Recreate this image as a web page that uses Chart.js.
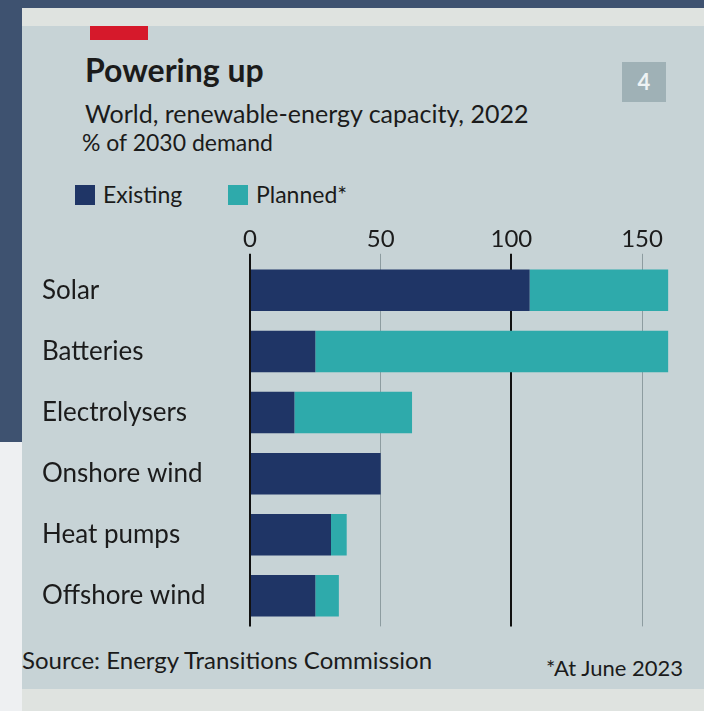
<!DOCTYPE html>
<html>
<head>
<meta charset="utf-8">
<script src="https://cdn.jsdelivr.net/npm/chart.js@4.4.0/dist/chart.umd.min.js"></script>
<style>
  html, body { margin: 0; padding: 0; }
  body { width: 704px; height: 711px; position: relative; overflow: hidden; background: #3e5270; font-family: Lato, "Open Sans", sans-serif; color: #1b1b1b; }
  #paper { position: absolute; left: 22px; top: 8px; right: 0; bottom: 0; background: #dfe3e0; }
  #panel { position: absolute; left: 22px; top: 26px; right: 0; bottom: 22px; background: #c7d3d6; }
  #leftlow { position: absolute; left: 0; top: 442px; width: 22px; bottom: 0; background: #eef0f2; }
  .t { position: absolute; white-space: nowrap; }
  #red { position: absolute; left: 90px; top: 26px; width: 58px; height: 14px; background: #d6192b; }
  #title { left: 85px; top: 50px; font-size: 32px; font-weight: 700; }
  #sub { left: 85px; top: 98px; font-size: 25px; }
  #unit { left: 82px; top: 128px; font-size: 23px; }
  #num { position: absolute; left: 622px; top: 62px; width: 44px; height: 40px; background: #9fb1b6; color: #eef3f4; font: 700 22px Lato, sans-serif; text-align: center; line-height: 40px; }
  .leg { position: absolute; top: 180px; font-size: 23px; }
  .sw { display: inline-block; width: 20px; height: 20px; vertical-align: -2px; margin-right: 8px; }
  #src { left: 22px; top: 645px; font-size: 24px; }
  #note { left: 546px; top: 654px; font-size: 22px; }
  #wrap { position: absolute; left: 0; top: 225px; width: 704px; height: 420px; }
</style>
</head>
<body>
<div id="paper"></div>
<div id="panel"></div>
<div id="leftlow"></div>
<div id="red"></div>
<div class="t" id="title">Powering up</div>
<div class="t" id="sub">World, renewable-energy capacity, 2022</div>
<div class="t" id="unit">% of 2030 demand</div>
<div id="num">4</div>
<div class="leg" style="left:75px"><span class="sw" style="background:#1f3566"></span>Existing</div>
<div class="leg" style="left:228px"><span class="sw" style="background:#2eaaab"></span>Planned*</div>
<div id="wrap"><canvas id="myChart"></canvas></div>
<div class="t" id="src">Source: Energy Transitions Commission</div>
<div class="t" id="note">*At June 2023</div>
<script>
const categories = ['Solar', 'Batteries', 'Electrolysers', 'Onshore wind', 'Heat pumps', 'Offshore wind'];
const existing = [107, 25, 17, 50, 31, 25];
const planned = [53, 135, 45, 0, 6, 9];
const tickValues = [0, 50, 100, 150];

const data = {
  labels: categories,
  datasets: [{
    label: 'Existing',
    backgroundColor: '#1f3566',
    data: existing,
  }, {
    label: 'Planned*',
    backgroundColor: '#2eaaab',
    data: planned,
  }]
};

const config = {
  type: 'bar',
  data: data,
  options: {
    indexAxis: 'y',
    responsive: true,
    maintainAspectRatio: false,
    animation: false,
    layout: { padding: { left: 42, right: 28, top: 0, bottom: 15 } },
    plugins: { legend: { display: false }, tooltip: { enabled: false } },
    datasets: { bar: { barPercentage: 0.68, categoryPercentage: 1 } },
    scales: {
      x: {
        position: 'top',
        stacked: true,
        min: 0,
        max: 163,
        afterBuildTicks: (scale) => { scale.ticks = tickValues.map(v => ({ value: v })); },
        border: { display: false },
        grid: {
          color: (c) => (c.tick && (c.tick.value === 0 || c.tick.value === 100)) ? '#111' : '#8d9ca0',
          lineWidth: (c) => (c.tick && (c.tick.value === 0 || c.tick.value === 100)) ? 2 : 1,
          tickLength: 6,
        },
        ticks: { color: '#1b1b1b', font: { family: 'Lato', size: 24 }, padding: 0 },
      },
      y: {
        stacked: true,
        grid: { display: false },
        border: { display: false },
        afterFit: (scale) => { scale.width = 208; },
        ticks: { crossAlign: 'far', color: '#1b1b1b', font: { family: 'Lato', size: 26 } },
      }
    }
  }
};

const myChart = new Chart(document.getElementById('myChart'), config);
</script>
</body>
</html>
